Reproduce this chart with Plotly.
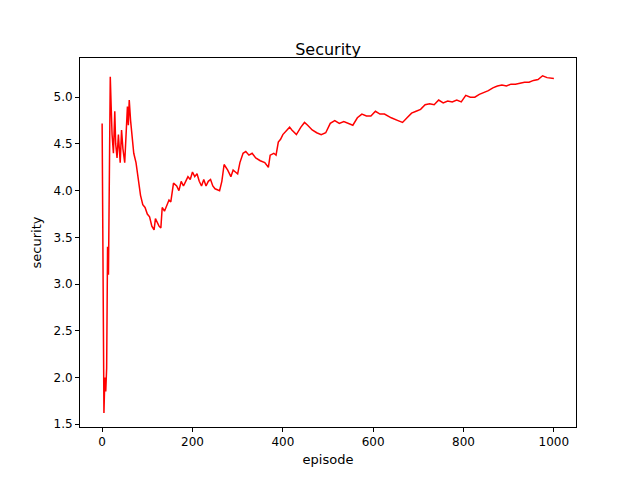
import plotly.graph_objects as go

episode = [0, 2, 4, 6, 8, 10, 12, 14, 16, 18, 20, 22, 25, 28, 30, 33, 36, 40, 43, 46, 50, 53, 56, 58, 60, 63, 66, 70, 75, 80,
           85, 90, 95, 100, 105, 110, 115, 118, 122, 126, 130, 133, 138, 143, 148, 152, 158, 165, 170, 175, 180, 185, 190,
           195, 200, 205, 210, 215, 220, 225, 230, 235, 240, 245, 250, 260, 265, 270, 278, 285, 290, 295, 300, 305, 312,
           318, 325, 332, 340, 350, 360, 368, 372, 380, 385, 390, 395, 400, 410, 415, 420, 430, 440, 448, 455, 465, 475,
           485, 495, 505, 515, 525, 535, 545, 555, 565, 575, 585, 595, 605, 615, 625, 640, 655, 665, 675, 685, 695, 705,
           715, 725, 735, 745, 755, 765, 775, 785, 795, 805, 815, 825, 835, 845, 855, 865, 875, 885, 895, 905, 915, 925,
           935, 945, 955, 965, 975, 985, 995, 1000]
security = [4.72, 2.1, 1.62, 2.0, 1.85, 2.1, 3.4, 3.1, 4.85, 5.22, 4.9, 4.6, 4.4, 4.85, 4.5, 4.35, 4.6, 4.3, 4.65, 4.45,
            4.3, 4.6, 4.9, 4.7, 4.97, 4.75, 4.6, 4.4, 4.3, 4.1, 3.95, 3.85, 3.82, 3.75, 3.72, 3.62, 3.58, 3.7, 3.65, 3.62,
            3.6, 3.82, 3.78, 3.85, 3.9, 3.88, 4.08, 4.05, 4.0, 4.1, 4.05, 4.1, 4.15, 4.12, 4.2, 4.15, 4.18, 4.1, 4.05,
            4.12, 4.05, 4.1, 4.12, 4.05, 4.02, 4.0, 4.1, 4.28, 4.22, 4.15, 4.22, 4.2, 4.18, 4.3, 4.4, 4.42, 4.38, 4.4,
            4.35, 4.32, 4.3, 4.25, 4.38, 4.4, 4.38, 4.52, 4.55, 4.6, 4.65, 4.68, 4.65, 4.6, 4.68, 4.73, 4.7, 4.65, 4.62,
            4.6, 4.62, 4.72, 4.75, 4.72, 4.74, 4.72, 4.7, 4.78, 4.82, 4.8, 4.8, 4.85, 4.82, 4.82, 4.78, 4.75, 4.73, 4.78,
            4.83, 4.85, 4.87, 4.92, 4.93, 4.92, 4.97, 4.94, 4.96, 4.95, 4.97, 4.95, 5.02, 5.0, 5.0, 5.03, 5.05, 5.07,
            5.1, 5.12, 5.13, 5.12, 5.14, 5.14, 5.15, 5.16, 5.16, 5.18, 5.19, 5.23, 5.21, 5.2, 5.2]

fig = go.Figure()
fig.add_trace(go.Scatter(x=episode, y=security, mode="lines", line=dict(color="red", width=1.5)))

ax = dict(showgrid=False, zeroline=False, showline=True, linecolor="black", mirror=True, automargin=False,
          ticks="outside", ticklen=4, tickcolor="black", tickfont=dict(size=12, color="black"))
fig.update_layout(
    width=640, height=480, plot_bgcolor="white", paper_bgcolor="white", showlegend=False,
    font=dict(family="DejaVu Sans", color="black"),
    margin=dict(l=72, r=72, t=50, b=61),
    title=dict(text="Security", x=0.5, xanchor="center", y=0.925, font=dict(size=16)),
    xaxis=dict(ax, range=[-49, 1049], tickvals=[0, 200, 400, 600, 800, 1000],
               title=dict(text="episode", font=dict(size=13), standoff=6)),
    yaxis=dict(ax, range=[1.47, 5.42], tickvals=[1.5, 2.0, 2.5, 3.0, 3.5, 4.0, 4.5, 5.0],
               ticktext=["1.5", "2.0", "2.5", "3.0", "3.5", "4.0", "4.5", "5.0"],
               title=dict(text="security", font=dict(size=13), standoff=8)),
)
fig.write_html("out.html")
